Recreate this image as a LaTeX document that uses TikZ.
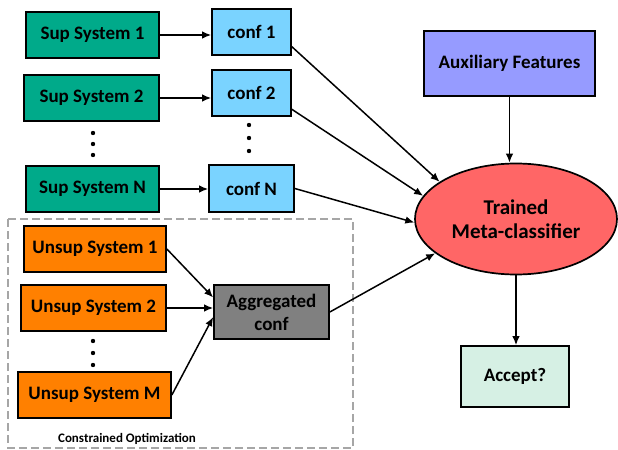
\documentclass[tikz,border=0pt]{standalone}
\usepackage{fontspec}
\setmainfont{Carlito}
\usetikzlibrary{shapes.geometric,arrows.meta}
\definecolor{supgreen}{RGB}{0,170,138}
\definecolor{confblue}{RGB}{122,211,255}
\definecolor{unsuporange}{RGB}{255,128,0}
\definecolor{auxblue}{RGB}{150,155,255}
\definecolor{metared}{RGB}{255,102,102}
\definecolor{acceptgreen}{RGB}{214,240,228}
\definecolor{boxgray}{RGB}{166,166,166}
\begin{document}
\begin{tikzpicture}[x=0.5pt,y=-0.5pt,
        box/.style={draw=black, line width=0.85pt, inner sep=0pt, align=center,
            font=\fontsize{9.5}{11.5}\selectfont\bfseries},
        arr/.style={-{Latex[length=4.5pt,width=3.8pt]}, line width=0.75pt}]
        \useasboundingbox (0,0) rectangle (618,450);
        \draw[boxgray, line width=0.75pt, dash pattern=on 4pt off 2pt] (8,219) rectangle (353,448);
        \node[font=\fontsize{6.5}{8}\selectfont\bfseries] (optlabel) at (127,439) {Constrained Optimization};
        \node[box, fill=supgreen, minimum width=66.5pt, minimum height=23pt] (sup1) at (92.5,35) {Sup System 1};
        \node[box, fill=supgreen, minimum width=67.5pt, minimum height=23pt] (sup2) at (91.5,98) {Sup System 2};
        \node[box, fill=supgreen, minimum width=66.5pt, minimum height=23pt] (supN) at (92.5,189) {Sup System N};
        \node[box, fill=confblue, minimum width=39.5pt, minimum height=23pt] (conf1) at (251.5,32) {conf 1};
        \node[box, fill=confblue, minimum width=39.5pt, minimum height=23pt] (conf2) at (251.5,93) {conf 2};
        \node[box, fill=confblue, minimum width=42.5pt, minimum height=23.5pt] (confN) at (251.5,188.5) {conf N};
        \node[box, fill=unsuporange, minimum width=71pt, minimum height=23pt] (unsup1) at (95,249) {Unsup System 1};
        \node[box, fill=unsuporange, minimum width=72.5pt, minimum height=23pt] (unsup2) at (93.5,308) {Unsup System 2};
        \node[box, fill=unsuporange, minimum width=76.5pt, minimum height=23pt] (unsupM) at (94.5,395) {Unsup System M};
        \node[box, fill=gray, minimum width=57.5pt, minimum height=27pt] (agg) at (271.5,312) {Aggregated\\conf};
        \node[box, fill=auxblue, minimum width=85.5pt, minimum height=32.5pt] (aux) at (509.5,63.5) {Auxiliary Features};
        \node[box, ellipse, fill=metared, minimum width=101pt, minimum height=55.5pt,
            font=\fontsize{10.5}{12}\selectfont\bfseries] (meta) at (516,219) {Trained\\Meta-classifier};
        \node[box, fill=acceptgreen, minimum width=54pt, minimum height=30.5pt] (accept) at (515,376.5) {Accept?};
        \foreach \y in {133,144,155} \fill (93,\y) circle (1.1pt);
        \foreach \y in {125,138,151} \fill (249,\y) circle (1.1pt);
        \foreach \y in {341,353,365} \fill (93,\y) circle (1.1pt);
        \draw[arr] (sup1.east) -- (sup1.east -| conf1.west);
        \draw[arr] (sup2.east) -- (sup2.east -| conf2.west);
        \draw[arr] (supN.east) -- (supN.east -| confN.west);
        \draw[arr] (conf1.-20) -- (meta.154);
        \draw[arr] (conf2.-22) -- (meta.166);
        \draw[arr] (confN.east) -- (meta.182);
        \draw[arr] (agg.east) -- (meta.203);
        \draw[arr] (unsup1.east) -- (agg.166);
        \draw[arr] (unsup2.east) -- (unsup2.east -| agg.west);
        \draw[arr] (unsupM.east) -- (agg.185);
        \draw[arr] (aux.south) -- (aux.south |- meta.north);
        \draw[arr] (meta.south) -- (meta.south |- accept.north);
\end{tikzpicture}
\end{document}
